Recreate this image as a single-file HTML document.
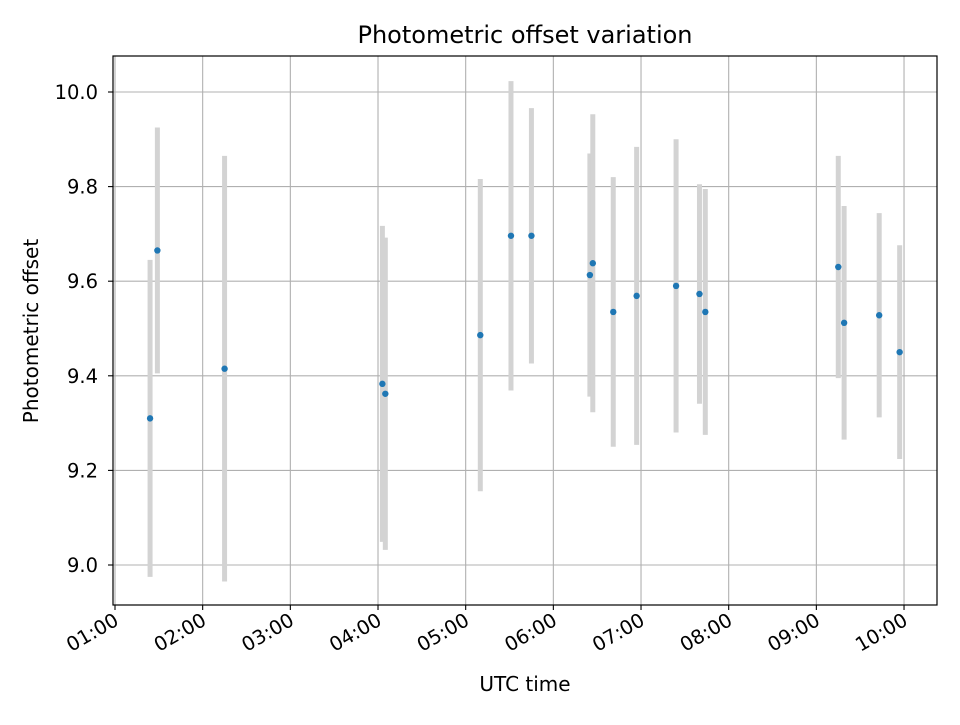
<!DOCTYPE html>
<html><head><meta charset="utf-8"><style>
body{margin:0;background:#fff;}
svg text{font-family:"DejaVu Sans","Liberation Sans",sans-serif;}
</style></head><body>
<svg id="chart" width="960" height="720" xmlns="http://www.w3.org/2000/svg">
<rect width="960" height="720" fill="#fff"/>
<text x="525" y="43" font-size="24" text-anchor="middle">Photometric offset variation</text>
<text x="525" y="691" font-size="20" text-anchor="middle">UTC time</text>
<text transform="translate(38,331) rotate(-90)" font-size="20" text-anchor="middle">Photometric offset</text>
<g id="grid"></g>
<g id="bars"></g>
<g id="pts"></g>
<rect x="113" y="56" width="824" height="549" fill="none" stroke="#000" stroke-width="1.2"/>
<g id="ticks"></g>
</svg>
<script>
const timesMin=[84,89,135,243,245,310,331,345,385,387,401,417,444,460,464,555,559,583,597];
const values=[9.31,9.665,9.415,9.383,9.362,9.486,9.696,9.696,9.613,9.638,9.535,9.569,9.590,9.573,9.535,9.63,9.512,9.528,9.45];
const errors=[0.335,0.26,0.45,0.334,0.33,0.33,0.327,0.27,0.257,0.315,0.285,0.315,0.31,0.232,0.26,0.235,0.247,0.216,0.226];
const xTickHours=[1,2,3,4,5,6,7,8,9,10];
const xTickLabels=["01:00","02:00","03:00","04:00","05:00","06:00","07:00","08:00","09:00","10:00"];
const yTicks=[9.0,9.2,9.4,9.6,9.8,10.0];
const yTickLabels=["9.0","9.2","9.4","9.6","9.8","10.0"];
const NS="http://www.w3.org/2000/svg";
const L=113,R=937,T=56,B=605;
function xs(min){return 115+(min-60)*(87.67/60);}
function ys(v){return 565-(v-9.0)*473;}
function mk(tag,attrs,parent){const e=document.createElementNS(NS,tag);for(const k in attrs)e.setAttribute(k,attrs[k]);parent.appendChild(e);return e;}
const grid=document.getElementById('grid'),ticks=document.getElementById('ticks'),bars=document.getElementById('bars'),pts=document.getElementById('pts');
xTickHours.forEach((h,i)=>{
  const x=xs(h*60);
  const g=mk('line',{x1:x,x2:x,y1:T,y2:B,stroke:'#b0b0b0','stroke-width':1.1},grid);
  
  
  const t=mk('line',{x1:x,x2:x,y1:B,y2:B+5,stroke:'#000','stroke-width':1.1},ticks);
  
  
  const tx=mk('text',{'font-size':19.5,'text-anchor':'end',transform:`translate(${x+5},${B+19}) rotate(-30)`},ticks);
  tx.textContent=xTickLabels[i];
  
  
});
yTicks.forEach((v,i)=>{
  const y=ys(v);
  const g=mk('line',{x1:L,x2:R,y1:y,y2:y,stroke:'#b0b0b0','stroke-width':1.1},grid);
  
  
  const t=mk('line',{x1:L-5,x2:L,y1:y,y2:y,stroke:'#000','stroke-width':1.1},ticks);
  
  
  const tx=mk('text',{x:L-15,y:y+7,'font-size':19.5,'text-anchor':'end'},ticks);
  tx.textContent=yTickLabels[i];
  
  
});
timesMin.forEach((m,i)=>{
  const x=xs(m);
  const b=mk('line',{x1:x,x2:x,y1:ys(values[i]+errors[i]),y2:ys(values[i]-errors[i]),stroke:'#d3d3d3','stroke-width':5},bars);
  
  
  const p=mk('circle',{cx:x,cy:ys(values[i]),r:3.2,fill:'#1f77b4'},pts);
  
  
});
</script>
</body></html>
